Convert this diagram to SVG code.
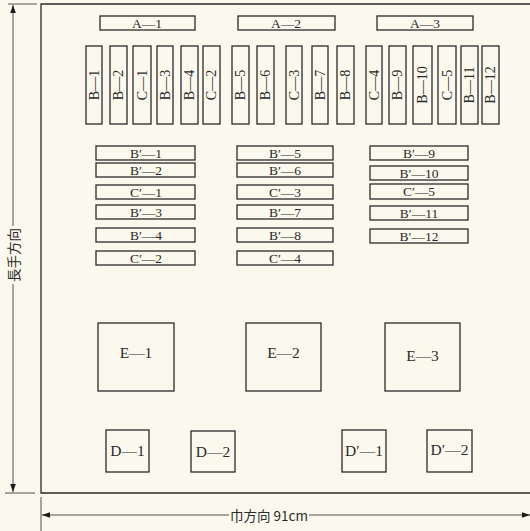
<svg xmlns="http://www.w3.org/2000/svg" width="530" height="531" viewBox="0 0 530 531">
<style>
.bx{fill:none;stroke:#2a2a2a;stroke-width:1.3}
.ln{fill:none;stroke:#2a2a2a;stroke-width:1.3}
.dim{fill:none;stroke:#3a3a3a;stroke-width:0.9}
text{font-family:"Liberation Serif","Noto Sans CJK JP",serif;font-size:13.5px;fill:#2a2a2a;text-anchor:middle;dominant-baseline:central}
.v{font-size:14px}
.big{font-size:15.5px}
.jp{font-family:"Noto Sans CJK JP","Liberation Serif",serif;font-size:13.5px}
</style>
<defs>
<marker id="ah" viewBox="0 0 10 10" refX="10" refY="5" markerWidth="10" markerHeight="8" markerUnits="userSpaceOnUse" orient="auto">
<path d="M0,1.5 L10,5 L0,8.5 Z" fill="#1a1a1a"/>
</marker>
</defs>
<rect width="530" height="531" fill="#fbf9ee"/>
<g id="frame">
<path class="ln" d="M530,4 H41 V493 H530"/>
</g>
<g id="connectors">
<line class="dim" x1="8" y1="4" x2="37" y2="4"/>
<line class="dim" x1="5" y1="493" x2="35" y2="493"/>
<line class="dim" x1="13" y1="226" x2="13" y2="5" marker-end="url(#ah)"/>
<line class="dim" x1="13" y1="284" x2="13" y2="492" marker-end="url(#ah)"/>
<line class="dim" x1="41" y1="497" x2="41" y2="531"/>
<line class="dim" x1="229" y1="515" x2="42" y2="515" marker-end="url(#ah)"/>
<line class="dim" x1="309" y1="515" x2="530" y2="515" marker-end="url(#ah)"/>
</g>
<g id="dim-labels">
<text class="jp" x="13" y="255" transform="rotate(-90 13 255)">長手方向</text>
<text class="jp" x="269" y="515">巾方向 91cm</text>
</g>
<g id="A-1"><rect class="bx" x="100" y="16" width="95" height="14"/><text x="147" y="23">A—1</text></g>
<g id="A-2"><rect class="bx" x="238" y="16" width="97" height="14"/><text x="286" y="23">A—2</text></g>
<g id="A-3"><rect class="bx" x="377" y="16" width="96" height="14"/><text x="425" y="23">A—3</text></g>
<g id="B-1"><rect class="bx" x="86" y="46" width="16" height="78"/><text class="v" x="94" y="85" transform="rotate(-90 94 85)">B—1</text></g>
<g id="B-2"><rect class="bx" x="110" y="46" width="17" height="78"/><text class="v" x="118.5" y="85" transform="rotate(-90 118.5 85)">B—2</text></g>
<g id="C-1"><rect class="bx" x="133" y="46" width="18" height="78"/><text class="v" x="142" y="85" transform="rotate(-90 142 85)">C—1</text></g>
<g id="B-3"><rect class="bx" x="157" y="46" width="16" height="78"/><text class="v" x="165" y="85" transform="rotate(-90 165 85)">B—3</text></g>
<g id="B-4"><rect class="bx" x="181" y="46" width="17" height="78"/><text class="v" x="189.5" y="85" transform="rotate(-90 189.5 85)">B—4</text></g>
<g id="C-2"><rect class="bx" x="203" y="46" width="17" height="78"/><text class="v" x="211.5" y="85" transform="rotate(-90 211.5 85)">C—2</text></g>
<g id="B-5"><rect class="bx" x="232" y="46" width="17" height="78"/><text class="v" x="240.5" y="85" transform="rotate(-90 240.5 85)">B—5</text></g>
<g id="B-6"><rect class="bx" x="257" y="46" width="17" height="78"/><text class="v" x="265.5" y="85" transform="rotate(-90 265.5 85)">B—6</text></g>
<g id="C-3"><rect class="bx" x="286" y="46" width="16" height="78"/><text class="v" x="294" y="85" transform="rotate(-90 294 85)">C—3</text></g>
<g id="B-7"><rect class="bx" x="312" y="46" width="16" height="78"/><text class="v" x="320" y="85" transform="rotate(-90 320 85)">B—7</text></g>
<g id="B-8"><rect class="bx" x="337" y="46" width="17" height="78"/><text class="v" x="345.5" y="85" transform="rotate(-90 345.5 85)">B—8</text></g>
<g id="C-4"><rect class="bx" x="366" y="46" width="16" height="78"/><text class="v" x="374" y="85" transform="rotate(-90 374 85)">C—4</text></g>
<g id="B-9"><rect class="bx" x="389" y="46" width="17" height="78"/><text class="v" x="397.5" y="85" transform="rotate(-90 397.5 85)">B—9</text></g>
<g id="B-10"><rect class="bx" x="413" y="46" width="19" height="78"/><text class="v" x="422.5" y="85" transform="rotate(-90 422.5 85)">B—10</text></g>
<g id="C-5"><rect class="bx" x="438" y="46" width="18" height="78"/><text class="v" x="447" y="85" transform="rotate(-90 447 85)">C—5</text></g>
<g id="B-11"><rect class="bx" x="461" y="46" width="17" height="78"/><text class="v" x="469.5" y="85" transform="rotate(-90 469.5 85)">B—11</text></g>
<g id="B-12"><rect class="bx" x="482" y="46" width="17" height="78"/><text class="v" x="490.5" y="85" transform="rotate(-90 490.5 85)">B—12</text></g>
<g id="Bp-1"><rect class="bx" x="96" y="146" width="99" height="14"/><text x="146" y="153">B′—1</text></g>
<g id="Bp-2"><rect class="bx" x="96" y="163" width="99" height="14"/><text x="146" y="170">B′—2</text></g>
<g id="Cp-1"><rect class="bx" x="96" y="185" width="99" height="14"/><text x="146" y="192">C′—1</text></g>
<g id="Bp-3"><rect class="bx" x="96" y="205" width="99" height="14"/><text x="146" y="212">B′—3</text></g>
<g id="Bp-4"><rect class="bx" x="96" y="228" width="99" height="14"/><text x="146" y="235">B′—4</text></g>
<g id="Cp-2"><rect class="bx" x="96" y="251" width="99" height="14"/><text x="146" y="258">C′—2</text></g>
<g id="Bp-5"><rect class="bx" x="237" y="146" width="96" height="14"/><text x="285" y="153">B′—5</text></g>
<g id="Bp-6"><rect class="bx" x="237" y="163" width="96" height="14"/><text x="285" y="170">B′—6</text></g>
<g id="Cp-3"><rect class="bx" x="237" y="185" width="96" height="14"/><text x="285" y="192">C′—3</text></g>
<g id="Bp-7"><rect class="bx" x="237" y="205" width="96" height="14"/><text x="285" y="212">B′—7</text></g>
<g id="Bp-8"><rect class="bx" x="237" y="228" width="96" height="14"/><text x="285" y="235">B′—8</text></g>
<g id="Cp-4"><rect class="bx" x="237" y="251" width="96" height="14"/><text x="285" y="258">C′—4</text></g>
<g id="Bp-9"><rect class="bx" x="370" y="146" width="98" height="14"/><text x="419" y="153">B′—9</text></g>
<g id="Bp-10"><rect class="bx" x="370" y="166" width="98" height="14"/><text x="419" y="173">B′—10</text></g>
<g id="Cp-5"><rect class="bx" x="370" y="184" width="98" height="15"/><text x="419" y="191.5">C′—5</text></g>
<g id="Bp-11"><rect class="bx" x="370" y="206" width="98" height="14"/><text x="419" y="213">B′—11</text></g>
<g id="Bp-12"><rect class="bx" x="370" y="229" width="98" height="14"/><text x="419" y="236">B′—12</text></g>
<g id="E-1"><rect class="bx" x="98" y="323" width="76" height="68"/><text class="big" x="136" y="352">E—1</text></g>
<g id="E-2"><rect class="bx" x="246" y="323" width="75" height="68"/><text class="big" x="283.5" y="352">E—2</text></g>
<g id="E-3"><rect class="bx" x="385" y="323" width="75" height="68"/><text class="big" x="422.5" y="355">E—3</text></g>
<g id="D-1"><rect class="bx" x="106" y="430" width="43" height="42"/><text class="big" x="127.5" y="450">D—1</text></g>
<g id="D-2"><rect class="bx" x="191" y="431" width="44" height="41"/><text class="big" x="213" y="451">D—2</text></g>
<g id="Dp-1"><rect class="bx" x="342" y="430" width="44" height="42"/><text class="big" x="364" y="450">D′—1</text></g>
<g id="Dp-2"><rect class="bx" x="427" y="430" width="45" height="42"/><text class="big" x="449.5" y="449">D′—2</text></g>
</svg>
